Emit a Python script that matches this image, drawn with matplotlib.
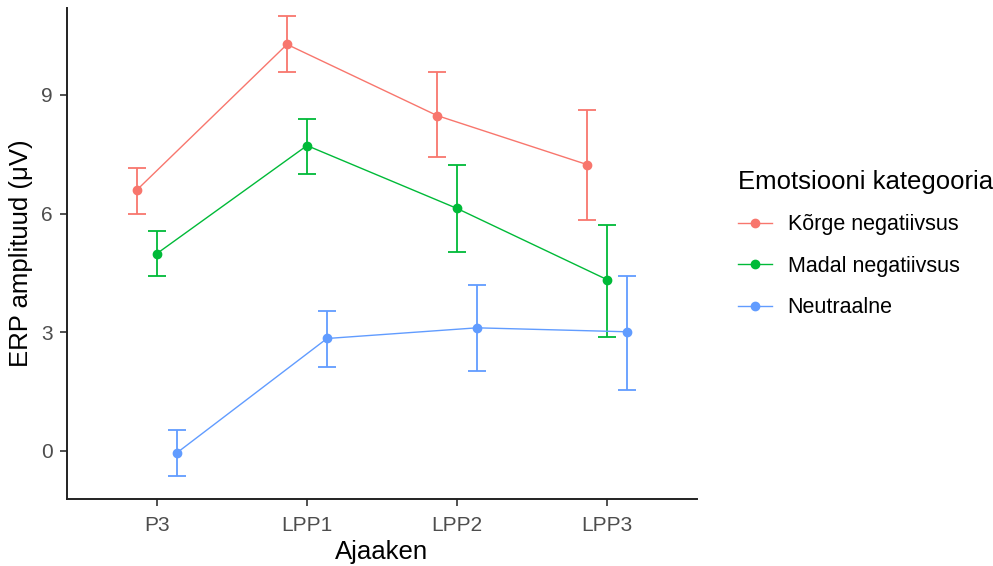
import matplotlib
matplotlib.use("Agg")
import matplotlib.pyplot as plt
import numpy as np

plt.rcParams['font.family'] = ['Liberation Sans', 'DejaVu Sans']

windows = ["P3", "LPP1", "LPP2", "LPP3"]
groups = ["Kõrge negatiivsus", "Madal negatiivsus", "Neutraalne"]
colors = ["#F8766D", "#00BA38", "#619CFF"]

kõrge_mean = [6.60, 10.28, 8.48, 7.24]
kõrge_lo = [6.00, 9.57, 7.42, 5.85]
kõrge_hi = [7.16, 10.99, 9.57, 8.61]

madal_mean = [4.99, 7.72, 6.13, 4.33]
madal_lo = [4.43, 7.01, 5.04, 2.89]
madal_hi = [5.57, 8.38, 7.22, 5.70]

neutr_mean = [-0.05, 2.84, 3.11, 3.01]
neutr_lo = [-0.63, 2.13, 2.03, 1.54]
neutr_hi = [0.53, 3.54, 4.20, 4.41]

means = [kõrge_mean, madal_mean, neutr_mean]
los = [kõrge_lo, madal_lo, neutr_lo]
his = [kõrge_hi, madal_hi, neutr_hi]

W, H = 993, 566
fig = plt.figure(figsize=(W / 100, H / 100), dpi=100)
left_px, right_px, top_px, bot_px = 67, 697, 8, 499
ax = fig.add_axes([left_px / W, 1 - bot_px / H, (right_px - left_px) / W, (bot_px - top_px) / H])

x = np.arange(len(windows))
dodge = 0.4
offsets = [-dodge / 3, 0, dodge / 3]

for g, col, m, lo, hi, off in zip(groups, colors, means, los, his, offsets):
    m = np.array(m); lo = np.array(lo); hi = np.array(hi)
    xs = x + off
    ax.errorbar(xs, m, yerr=[m - lo, hi - m], fmt='none', ecolor=col,
                elinewidth=1.3, capsize=6.8, capthick=1.3, zorder=2)
    ax.plot(xs, m, color=col, lw=1.0, marker='o', markersize=6, label=g, zorder=3)

ax.set_xlim(-0.6, 3.6)
ax.set_ylim(-1.22, 11.2)
ax.set_xticks(x)
ax.set_xticklabels(windows)
ax.set_yticks([0, 3, 6, 9])

for s in ['top', 'right']:
    ax.spines[s].set_visible(False)
for s in ['left', 'bottom']:
    ax.spines[s].set_linewidth(1.4)
    ax.spines[s].set_color('#222222')

ax.tick_params(axis='both', length=5, width=1.2, color='#333333',
               labelsize=15, labelcolor='#4D4D4D')
ax.tick_params(axis='x', pad=7)
ax.tick_params(axis='y', pad=5)

ax.set_xlabel("Ajaaken", fontsize=18.5, color='black', labelpad=4)
ax.set_ylabel("ERP amplituud (μV)", fontsize=18.5, color='black', labelpad=6)

leg = fig.legend(loc='upper left', bbox_to_anchor=(738 / W, 1 - 170 / H),
                 frameon=False, fontsize=15.5, title="Emotsiooni kategooria",
                 title_fontsize=18.5, handlelength=1.6, handletextpad=0.7,
                 labelspacing=0.95, borderpad=0, borderaxespad=0)
leg._legend_box.align = "left"

fig.savefig("out.png", dpi=100)
